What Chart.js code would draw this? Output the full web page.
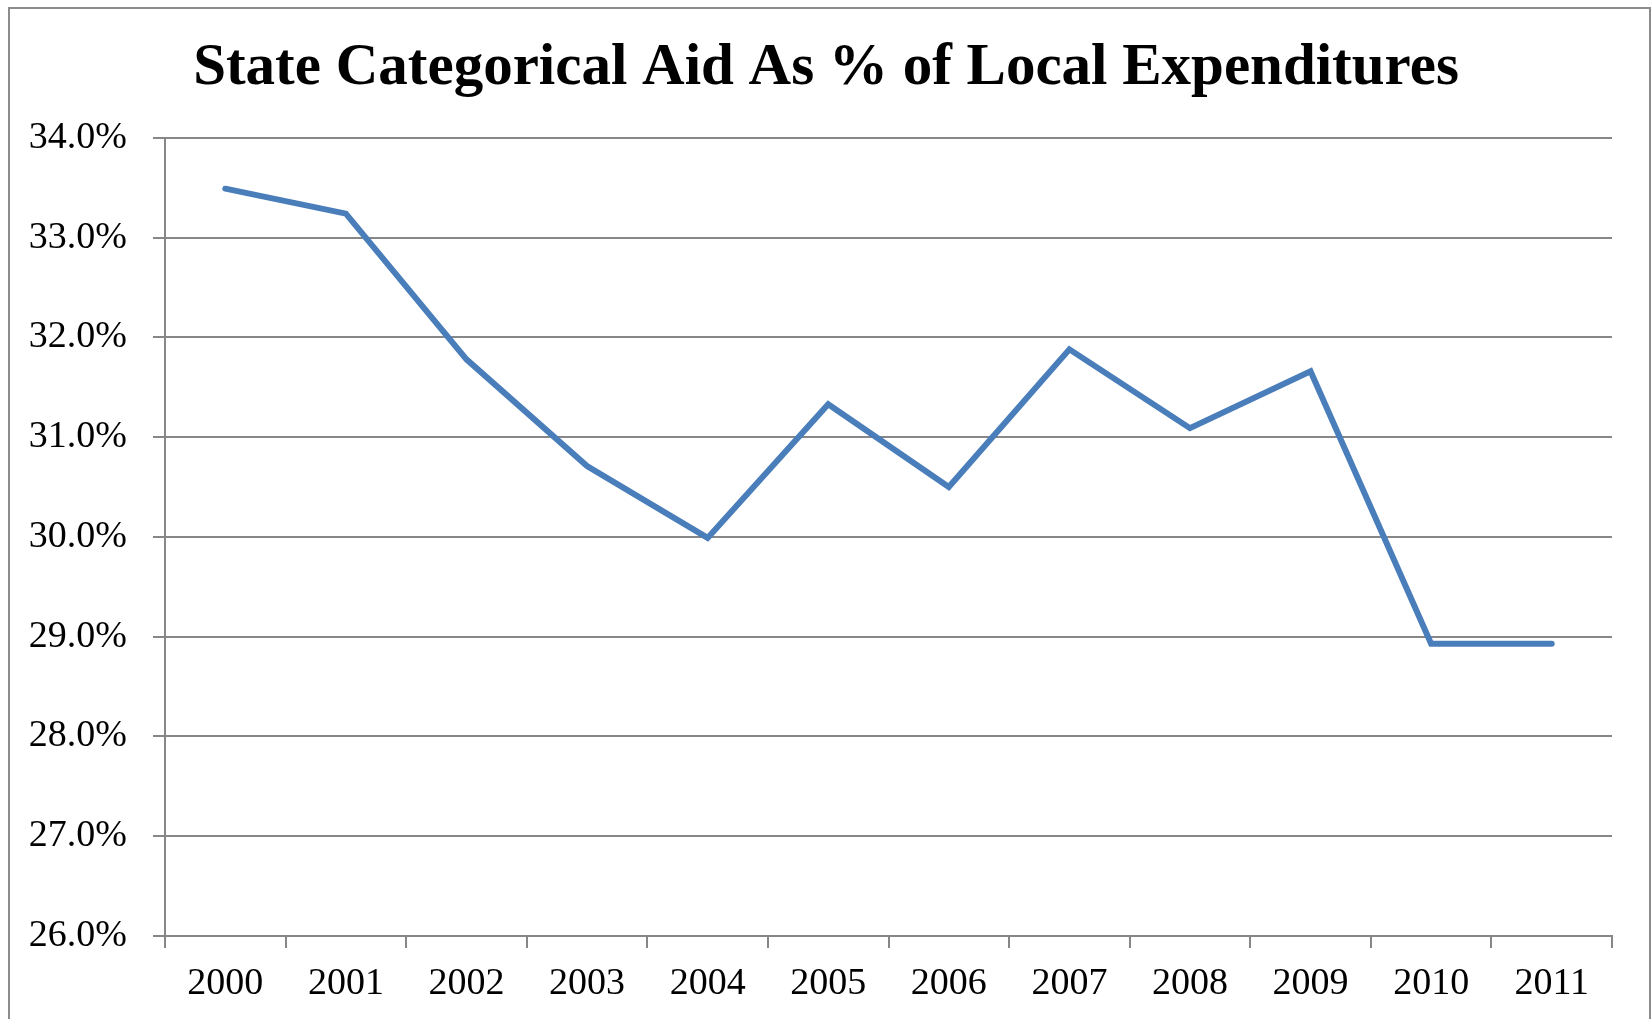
<!DOCTYPE html>
<html>
<head>
<meta charset="utf-8">
<title>State Categorical Aid As % of Local Expenditures</title>
<script src="https://cdn.jsdelivr.net/npm/chart.js@4/dist/chart.umd.min.js"></script>
<style>
  html, body { margin: 0; padding: 0; background: #fff; }
  #wrap { width: 1652px; height: 1019px; }
</style>
</head>
<body>
<div id="wrap"><canvas id="canvas" width="1652" height="1019"></canvas></div>
<script>
// years on the x-axis
var years = ["2000","2001","2002","2003","2004","2005","2006","2007","2008","2009","2010","2011"];

// categorical aid as a share of local spending (percent)
var aidPercent = [33.49, 33.24, 31.78, 30.71, 29.99, 31.33, 30.50, 31.88, 31.09, 31.66, 28.93, 28.93];

var chartTitle = "State Categorical Aid As % of Local Expenditures";

var gridGray = "#878787";
var serif = "'Liberation Serif', 'Times New Roman', serif";

// thin gray frame around the whole chart
var framePlugin = {
    id: 'frame',
    beforeDraw: function(chart) {
        var c = chart.ctx;
        c.save();
        c.fillStyle = "#ffffff";
        c.fillRect(0, 0, chart.width, chart.height);
        c.strokeStyle = "#8c8c8c";
        c.lineWidth = 2;
        c.strokeRect(9, 8, chart.width - 11, chart.height + 10);
        c.restore();
    }
};

var lineData = {
    labels: years,
    datasets: [
        {
            label: 'Categorical aid %',
            data: aidPercent,
            borderColor: "#4a7ebb",
            borderWidth: 6,
            borderCapStyle: 'round',
            borderJoinStyle: 'miter',
            pointRadius: 0,
            tension: 0,
            fill: false
        }
    ]
};

var lineOptions = {
    responsive: false,
    animation: false,
    layout: { padding: 0 },
    plugins: {
        legend: { display: false },
        tooltip: { enabled: false },
        title: {
            display: true,
            text: chartTitle,
            color: "#000",
            font: { family: serif, size: 59, weight: 'bold', lineHeight: 1.2 },
            padding: { top: 33, bottom: 34 }
        }
    },
    scales: {
        x: {
            offset: true,
            grid: {
                offset: true,
                drawOnChartArea: false,
                color: gridGray,
                lineWidth: 2,
                tickLength: 12,
                tickColor: gridGray
            },
            border: { color: gridGray, width: 2 },
            ticks: {
                color: "#000",
                font: { family: serif, size: 38 },
                padding: 13,
                maxRotation: 0,
                autoSkip: false
            },
            afterFit: function(scale) { scale.height = 83; }
        },
        y: {
            min: 26,
            max: 34,
            grid: {
                color: gridGray,
                lineWidth: 2,
                tickLength: 12,
                tickColor: gridGray
            },
            border: { color: gridGray, width: 2 },
            ticks: {
                stepSize: 1,
                color: "#000",
                font: { family: serif, size: 38 },
                padding: 26,
                callback: function(v) { return v.toFixed(1) + "%"; }
            },
            afterFit: function(scale) { scale.width = 165; }
        },
        // empty right-hand axis, only reserves the margin so the title stays centred
        yRight: {
            position: 'right',
            min: 26,
            max: 34,
            grid: { display: false, drawOnChartArea: false },
            border: { display: false },
            ticks: { display: false },
            afterFit: function(scale) { scale.width = 40; }
        }
    }
};

window.onload = function() {
    var ctx = document.getElementById("canvas").getContext("2d");
    window.myLine = new Chart(ctx, {
        type: 'line',
        data: lineData,
        options: lineOptions,
        plugins: [framePlugin]
    });
};
</script>
</body>
</html>
